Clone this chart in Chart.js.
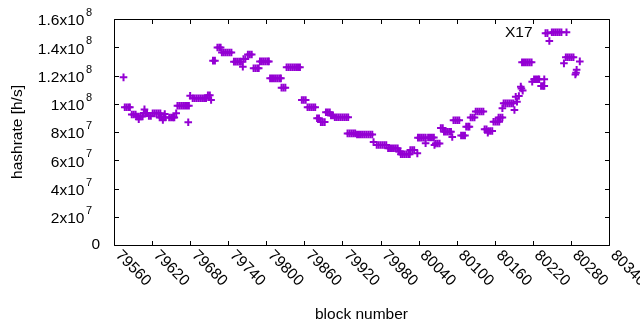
<!DOCTYPE html>
<html>
<head>
<meta charset="utf-8">
<script src="https://cdn.jsdelivr.net/npm/chart.js@4/dist/chart.umd.min.js"></script>
<style>
  html, body { margin: 0; padding: 0; background: #fff; }
  #wrap { width: 640px; height: 330px; }
</style>
</head>
<body>
<div id="wrap"><canvas id="c" width="640" height="330"></canvas></div>
<script>
// ---- data (block number, hashrate in MH/s) ----
const blocks = [
79575,
79577,79580,79583,79585,
79588,79591,79594,
79596,79599,79602,79605,
79599,
79608,
79607,79610,79612,
79615,79618,
79621,79624,79627,79630,79633,
79632,79635,79638,79641,
79640,79637,
79647,79650,79653,79655,
79658,
79660,79663,79666,79669,79672,79675,79678,
79677,
79680,
79684,79687,79690,79693,79696,79699,79702,79705,
79708,79711,
79713,
79716,79719,
79723,79726,79728,
79730,79733,79736,79739,79742,79745,
79749,79752,79755,79758,79760,
79763,
79764,79767,
79771,79774,79777,
79780,79783,79786,79788,
79790,79793,79796,79799,79802,79804,
79806,79809,79812,79815,79818,79821,79823,
79824,79827,79830,
79832,79835,79838,79841,79844,79847,79850,79853,
79856,79859,79862,
79865,79868,79871,79874,79877,
79880,79883,
79886,79889,79892,
79894,79897,79900,
79902,79905,
79908,79911,79914,79917,79920,79923,79926,79929,
79928,79931,79934,79937,79940,
79943,79946,79949,79952,79955,79958,79961,79964,79967,
79969,
79974,79977,79980,79983,79986,79989,
79992,79995,79998,80001,80004,80007,
80009,80011,
80012,80015,80018,80021,80024,80026,
80027,80030,80033,
80038,
80039,80042,80045,80048,80051,
80051,
80055,80058,80061,80064,
80065,
80067,80070,80073,
80075,80078,
80080,80083,80086,80089,80091,
80093,
80095,80098,80101,80104,
80107,80110,80113,
80115,80118,80120,
80122,80125,80128,
80130,80133,80136,80139,80142,
80144,80147,
80150,80153,80156,
80149,
80158,80161,80164,80167,
80166,80169,80172,
80174,80177,80180,80183,80186,80189,
80172,
80191,
80193,80195,80198,
80201,80202,80204,
80203,80206,80209,80212,80215,80218,
80219,
80222,80225,80228,80230,
80238,
80233,80236,80238,
80240,80243,
80250,80253,80256,80259,80262,80265,
80273,
80246,
80272,80275,80278,80281,80284,
80269,
80294,
80289,80288,80287
];
const hashrateMHs = [
118.7,
97.5,97.5,97.5,97.5,
92.4,92.4,92.4,
91.0,91.0,91.0,91.0,
89.0,
96.0,
93.5,93.5,93.5,
91.3,91.3,
93.2,93.2,93.2,93.2,93.2,
90.3,90.3,90.3,90.3,
92.7,88.5,
90.3,90.3,90.3,90.3,
93.2,
98.6,98.6,98.6,98.6,98.6,98.6,98.6,
86.9,
105.7,
103.9,103.9,103.9,103.9,103.9,103.9,103.9,103.9,
106.0,106.0,
102.7,
130.5,130.5,
139.8,139.8,139.8,
136.3,136.3,136.3,136.3,136.3,136.3,
129.8,129.8,129.8,129.8,129.8,
126.2,
131.7,131.7,
134.9,134.9,134.9,
125.1,125.1,125.1,125.1,
130.0,130.0,130.0,130.0,130.0,130.0,
118.0,118.0,118.0,118.0,118.0,118.0,118.0,
111.4,111.4,111.4,
125.8,125.8,125.8,125.8,125.8,125.8,125.8,125.8,
102.7,102.7,102.7,
97.5,97.5,97.5,97.5,97.5,
89.7,89.7,
87.0,87.0,87.0,
94.0,94.0,94.0,
91.7,91.7,
90.4,90.4,90.4,90.4,90.4,90.4,90.4,90.4,
79.0,79.0,79.0,79.0,79.0,
78.2,78.2,78.2,78.2,78.2,78.2,78.2,78.2,78.2,
72.9,
70.8,70.8,70.8,70.8,70.8,70.8,
68.5,68.5,68.5,68.5,68.5,68.5,
66.2,66.2,
64.2,64.2,64.2,64.2,64.2,64.2,
67.3,67.3,67.3,
64.9,
76.0,76.0,76.0,76.0,76.0,
72.0,
76.1,76.1,76.1,76.1,
70.8,
71.9,71.9,71.9,
82.8,82.8,
80.2,80.2,80.2,80.2,80.2,
76.5,
88.3,88.3,88.3,88.3,
77.5,77.5,77.5,
83.8,83.8,83.8,
90.3,90.3,90.3,
94.5,94.5,94.5,94.5,94.5,
81.9,81.9,
80.7,80.7,80.7,
79.5,
87.3,87.3,87.3,87.3,
90.3,90.3,90.3,
100.3,100.3,100.3,100.3,100.3,100.3,
96.8,
95.6,
105.0,101.5,105.5,
112.1,110.8,109.3,
129.3,129.3,129.3,129.3,129.3,129.3,
115.6,
117.3,117.3,117.3,117.3,
117.3,
112.6,112.6,112.6,
150.0,150.0,
150.6,150.6,150.6,150.6,150.6,150.6,
150.6,
144.4,
132.9,132.9,132.9,132.9,132.9,
128.6,
130.0,
124.1,122.0,120.7
];
const xTickValues = [79560,79620,79680,79740,79800,79860,79920,79980,80040,80100,80160,80220,80280,80340];
const xTickLabels = ['79560','79620','79680','79740','79800','79860','79920','79980','80040','80100','80160','80220','80280','80340'];
const yTickValues = [0,2e7,4e7,6e7,8e7,1e8,1.2e8,1.4e8,1.6e8];
const yTickLabels = [['0',''],['2x10','7'],['4x10','7'],['6x10','7'],['8x10','7'],['1x10','8'],['1.2x10','8'],['1.4x10','8'],['1.6x10','8']];
const xTitle = 'block number';
const yTitle = 'hashrate [h/s]';
const annotationText = 'X17';
const annotationAt = [80176, 150.4];   // data coordinates (block, MH/s)

const points = blocks.map((b, i) => ({ x: b, y: hashrateMHs[i] * 1e6 }));

const FONT = '15.5px "Liberation Sans", Arial, sans-serif';
const SUPFONT = '11px "Liberation Sans", Arial, sans-serif';

const gnuplotFrame = {
  id: 'gnuplotFrame',
  afterDraw(chart) {
    const { ctx, chartArea: a, scales: { x, y } } = chart;
    const L = Math.round(a.left) + 0.5, R = Math.round(a.right) + 0.5;
    const T = Math.round(a.top) + 0.5, B = Math.round(a.bottom) + 0.5;
    const TL = 4.5;
    ctx.save();
    ctx.strokeStyle = '#000';
    ctx.lineWidth = 1;
    ctx.beginPath();
    ctx.rect(L, T, R - L, B - T);
    xTickValues.forEach(v => {
      const p = Math.round(x.getPixelForValue(v)) + 0.5;
      ctx.moveTo(p, B); ctx.lineTo(p, B - TL);
      ctx.moveTo(p, T); ctx.lineTo(p, T + TL);
    });
    yTickValues.forEach(v => {
      const p = Math.round(y.getPixelForValue(v)) + 0.5;
      ctx.moveTo(L, p); ctx.lineTo(L + TL, p);
      ctx.moveTo(R, p); ctx.lineTo(R - TL, p);
    });
    ctx.stroke();

    ctx.fillStyle = '#000';
    // x tick labels, rotated clockwise by 45 degrees
    xTickValues.forEach((v, i) => {
      const p = x.getPixelForValue(v);
      ctx.save();
      ctx.translate(p + 4, a.bottom + 8);
      ctx.rotate(Math.PI / 4);
      ctx.font = FONT;
      ctx.textAlign = 'left';
      ctx.textBaseline = 'middle';
      ctx.fillText(xTickLabels[i], 0, 0);
      ctx.restore();
    });
    // y tick labels with superscript exponent
    yTickValues.forEach((v, i) => {
      const p = y.getPixelForValue(v);
      const [base, sup] = yTickLabels[i];
      ctx.textBaseline = 'middle';
      if (!sup) {
        ctx.font = FONT;
        ctx.textAlign = 'right';
        ctx.fillText(base, a.left - 14, p);
      } else {
        ctx.font = SUPFONT;
        const sw = ctx.measureText(sup).width;
        ctx.textAlign = 'right';
        const right = a.left - 22;
        ctx.fillText(sup, right, p - 6);
        ctx.font = FONT;
        ctx.fillText(base, right - sw - 1.5, p + 2);
      }
    });
    // axis titles
    ctx.font = FONT;
    ctx.textAlign = 'center';
    ctx.textBaseline = 'middle';
    ctx.fillText(xTitle, (a.left + a.right) / 2, 315);
    ctx.save();
    ctx.translate(18, (a.top + a.bottom) / 2);
    ctx.rotate(-Math.PI / 2);
    ctx.fillText(yTitle, 0, 0);
    ctx.restore();
    // label
    ctx.textAlign = 'left';
    ctx.fillText(annotationText, x.getPixelForValue(annotationAt[0]), y.getPixelForValue(annotationAt[1] * 1e6));
    ctx.restore();
  }
};

new Chart(document.getElementById('c'), {
  type: 'scatter',
  data: {
    datasets: [{
      data: points,
      pointStyle: 'cross',
      pointRadius: 3.8,
      pointHoverRadius: 3.8,
      borderWidth: 2,
      borderColor: '#9400d3',
      backgroundColor: '#9400d3'
    }]
  },
  options: {
    responsive: false,
    maintainAspectRatio: false,
    devicePixelRatio: 1,
    animation: false,
    events: [],
    layout: { padding: { left: 114, right: 31, top: 19, bottom: 85 } },
    plugins: { legend: { display: false }, tooltip: { enabled: false } },
    scales: {
      x: { type: 'linear', min: 79560, max: 80340, display: false },
      y: { type: 'linear', min: 0, max: 1.6e8, display: false }
    }
  },
  plugins: [gnuplotFrame]
});
</script>
</body>
</html>
